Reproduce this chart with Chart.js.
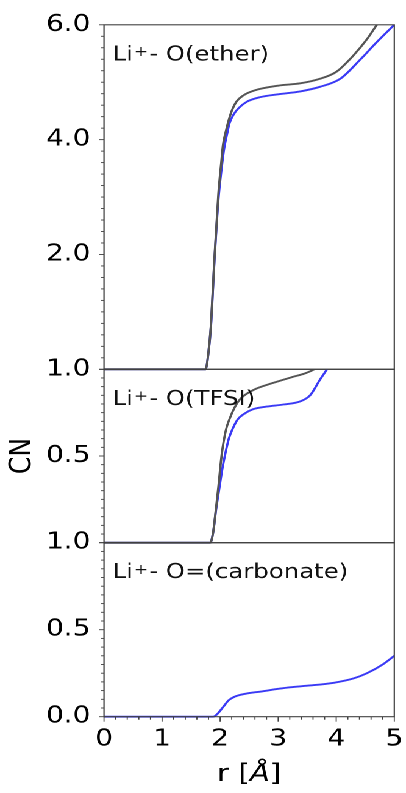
<!DOCTYPE html>
<html>
<head>
<meta charset="utf-8">
<script src="https://cdn.jsdelivr.net/npm/chart.js@4.4.1/dist/chart.umd.min.js"></script>
<style>
  html, body { margin: 0; padding: 0; background: #ffffff; }
  #wrap { position: relative; width: 333px; height: 793px; transform: scaleX(1.2192); transform-origin: 0 0; }
  #wrap canvas { position: absolute; left: 0; top: 0; }
</style>
</head>
<body>
<div id="wrap">
  <canvas id="cEther" width="333" height="793"></canvas>
  <canvas id="cTfsi" width="333" height="793"></canvas>
  <canvas id="cCarb" width="333" height="793"></canvas>
</div>
<script>
// Running coordination number CN(r) around Li+, three oxygen types.
// Radial distances r (Å) and CN values, one pair of arrays per curve.

// Li+ - O(ether)
const rEtherGray  = [0, 1.75, 1.80, 1.84, 1.90, 1.97, 2.02, 2.05, 2.10, 2.14, 2.20, 2.28, 2.40, 2.57, 3.00, 3.38, 3.72, 4.00, 4.30, 4.53, 4.70, 5.00];
const cnEtherGray = [0, 0,    0.30, 0.74, 1.89, 3.05, 3.60, 3.91, 4.15, 4.31, 4.50, 4.66, 4.77, 4.85, 4.94, 4.98, 5.06, 5.18, 5.47, 5.75, 6.00, 6.40];
const rEtherBlue  = [0, 1.75, 1.80, 1.84, 1.90, 1.97, 2.02, 2.07, 2.12, 2.16, 2.24, 2.32, 2.46, 2.69, 3.00, 3.38, 3.72, 4.07, 4.41, 4.70, 5.00];
const cnEtherBlue = [0, 0,    0.30, 0.72, 1.85, 2.95, 3.45, 3.85, 4.10, 4.28, 4.45, 4.55, 4.66, 4.74, 4.79, 4.84, 4.92, 5.06, 5.39, 5.70, 6.00];

// Li+ - O(TFSI)
const rTfsiGray  = [0, 1.83, 1.88, 1.93, 1.97, 2.03, 2.10, 2.17, 2.25, 2.35, 2.57, 2.90, 3.26, 3.45, 3.62, 3.80];
const cnTfsiGray = [0, 0,    0.06, 0.20, 0.32, 0.515, 0.65, 0.72, 0.78, 0.83, 0.88, 0.92, 0.957, 0.975, 1.00, 1.05];
const rTfsiBlue  = [0, 1.83, 1.88, 1.93, 1.98, 2.04, 2.09, 2.15, 2.22, 2.30, 2.40, 2.57, 2.80, 3.09, 3.38, 3.55, 3.72, 3.84, 3.95];
const cnTfsiBlue = [0, 0,    0.06, 0.19, 0.30, 0.43, 0.515, 0.60, 0.66, 0.71, 0.74, 0.77, 0.785, 0.797, 0.815, 0.85, 0.94, 1.00, 1.06];

// Li+ - O=(carbonate)
const rCarbBlue  = [0, 1.88, 1.95, 2.05, 2.15, 2.25, 2.34, 2.50, 2.69, 3.00, 3.20, 3.50, 3.96, 4.30, 4.53, 4.80, 5.00];
const cnCarbBlue = [0, 0,    0.015, 0.055, 0.095, 0.115, 0.125, 0.136, 0.144, 0.160, 0.169, 0.178, 0.195, 0.220, 0.250, 0.300, 0.350];

// Axis ticks
const rTicks = [0, 1, 2, 3, 4, 5];
const etherTicks = [0, 2, 4, 6];
const fracTicks = [0, 0.5, 1];

const GRAY = '#555555';
const BLUE = '#3a3af5';
const FRAME = '#404040';
const FONT = "'DejaVu Sans', 'Liberation Sans', sans-serif";

const PLOT_LEFT = 85.3;
const PLOT_RIGHT = 323.4;
const W = 333, H = 793;

function pts(rs, cs) { return rs.map((r, i) => ({ x: r, y: cs[i] })); }

function series(rs, cs, color, order) {
  return {
    data: pts(rs, cs),
    borderColor: color,
    borderWidth: 1.9,
    pointRadius: 0,
    cubicInterpolationMode: 'monotone',
    clip: { left: 0, top: 0, right: 0, bottom: 2 },
    order: order
  };
}

// frame, outward tick marks, panel caption and axis titles
const decor = {
  id: 'decor',
  afterDatasetsDraw(chart, args, o) {
    const { ctx, chartArea: a } = chart;
    const ys = chart.scales.y, xs = chart.scales.x;
    ctx.save();
    ctx.strokeStyle = FRAME;
    ctx.lineWidth = 1.1;
    ctx.strokeRect(a.left, a.top, a.right - a.left, a.bottom - a.top);

    // y tick marks (minor + major)
    const nY = Math.round((ys.max - ys.min) / o.yMinor);
    ctx.lineWidth = 0.9;
    for (let i = 0; i <= nY; i++) {
      const v = ys.min + i * o.yMinor;
      const major = Math.abs(v / o.yMajor - Math.round(v / o.yMajor)) < 1e-6;
      const py = ys.getPixelForValue(v);
      ctx.beginPath();
      ctx.moveTo(a.left, py);
      ctx.lineTo(a.left - (major ? 4.2 : 2.4), py);
      ctx.stroke();
    }
    // x tick marks on the bottom panel only
    if (o.xTicks) {
      const nX = Math.round((xs.max - xs.min) / o.xMinor);
      for (let i = 0; i <= nX; i++) {
        const v = xs.min + i * o.xMinor;
        const major = Math.abs(v - Math.round(v)) < 1e-6;
        const px = xs.getPixelForValue(v);
        ctx.beginPath();
        ctx.moveTo(px, a.bottom);
        ctx.lineTo(px, a.bottom + (major ? 5 : 3));
        ctx.stroke();
      }
    }

    // caption "Li⁺- O(...)"
    ctx.fillStyle = '#111111';
    ctx.textBaseline = 'alphabetic';
    ctx.textAlign = 'left';
    let x = 92.4;
    const base = a.top + 35.5;
    ctx.font = '20px ' + FONT;
    ctx.fillText('Li', x, base);
    x += ctx.measureText('Li').width + 0.8;
    ctx.font = '14px ' + FONT;
    ctx.fillText('+', x, base - 4.3);
    x += ctx.measureText('+').width + 0.8;
    ctx.font = '20px ' + FONT;
    ctx.fillText('- ' + o.caption, x, base);

    if (o.yTitle) {
      ctx.save();
      ctx.font = '25px ' + FONT;
      ctx.fillStyle = '#000000';
      ctx.translate(o.yTitle.x, o.yTitle.y);
      ctx.rotate(-Math.PI / 2);
      ctx.textAlign = 'center';
      ctx.textBaseline = 'middle';
      ctx.fillText(o.yTitle.text, 0, 0);
      ctx.restore();
    }
    if (o.xTitle) {
      ctx.fillStyle = '#000000';
      const parts = [['r [', '24px ' + FONT], ['Å', 'italic 24px ' + FONT], [']', '24px ' + FONT]];
      let total = 0;
      parts.forEach(p => { ctx.font = p[1]; total += ctx.measureText(p[0]).width; });
      let tx = (a.left + a.right) / 2 - total / 2;
      parts.forEach(p => { ctx.font = p[1]; ctx.fillText(p[0], tx, o.xTitle.y); tx += ctx.measureText(p[0]).width; });
    }
    ctx.restore();
  }
};

function makePanel(id, datasets, yMin, yMax, yTicks, hidden, top, bottom, deco, showX) {
  const xAxisH = H - bottom;
  return new Chart(document.getElementById(id), {
    type: 'line',
    data: { datasets },
    plugins: [decor],
    options: {
      responsive: false,
      animation: false,
      devicePixelRatio: 2,
      layout: { padding: { left: 0, right: W - PLOT_RIGHT, top: top, bottom: showX ? 0 : H - bottom } },
      plugins: { legend: { display: false }, tooltip: { enabled: false }, decor: deco },
      scales: {
        x: {
          type: 'linear', min: 0, max: 5, display: showX,
          grid: { display: false, drawTicks: false },
          border: { display: false },
          afterBuildTicks: s => { s.ticks = rTicks.map(v => ({ value: v })); },
          afterFit: s => {
            s.height = showX ? xAxisH : 0;
            s.paddingLeft = 0;
            s.paddingRight = 0;
          },
          ticks: {
            autoSkip: false, maxRotation: 0, padding: 9,
            color: '#000000', font: { family: FONT, size: 23 },
            callback: v => String(v)
          }
        },
        y: {
          type: 'linear', min: yMin, max: yMax,
          grid: { display: false, drawTicks: false },
          border: { display: false },
          afterBuildTicks: s => { s.ticks = yTicks.map(v => ({ value: v })); },
          afterFit: s => { s.width = PLOT_LEFT; },
          ticks: {
            padding: 11, color: '#000000', font: { family: FONT, size: 23 },
            callback: v => hidden.includes(v) ? '' : v.toFixed(1)
          }
        }
      }
    }
  });
}

makePanel('cEther',
  [series(rEtherGray, cnEtherGray, GRAY, 0), series(rEtherBlue, cnEtherBlue, BLUE, 1)],
  0, 6, etherTicks, [0], 22.7, 369.3,
  { caption: 'O(ether)', yMinor: 0.2, yMajor: 2 }, false);

makePanel('cTfsi',
  [series(rTfsiGray, cnTfsiGray, GRAY, 0), series(rTfsiBlue, cnTfsiBlue, BLUE, 1)],
  0, 1, fracTicks, [0], 369.3, 542.7,
  { caption: 'O(TFSI)', yMinor: 0.05, yMajor: 0.5, yTitle: { text: 'CN', x: 18.5, y: 456 } }, false);

makePanel('cCarb',
  [series(rCarbBlue, cnCarbBlue, BLUE, 1)],
  0, 1, fracTicks, [], 542.7, 716.7,
  { caption: 'O=(carbonate)', yMinor: 0.05, yMajor: 0.5, xTicks: true, xMinor: 0.2, xTitle: { y: 781 } }, true);
</script>
</body>
</html>
